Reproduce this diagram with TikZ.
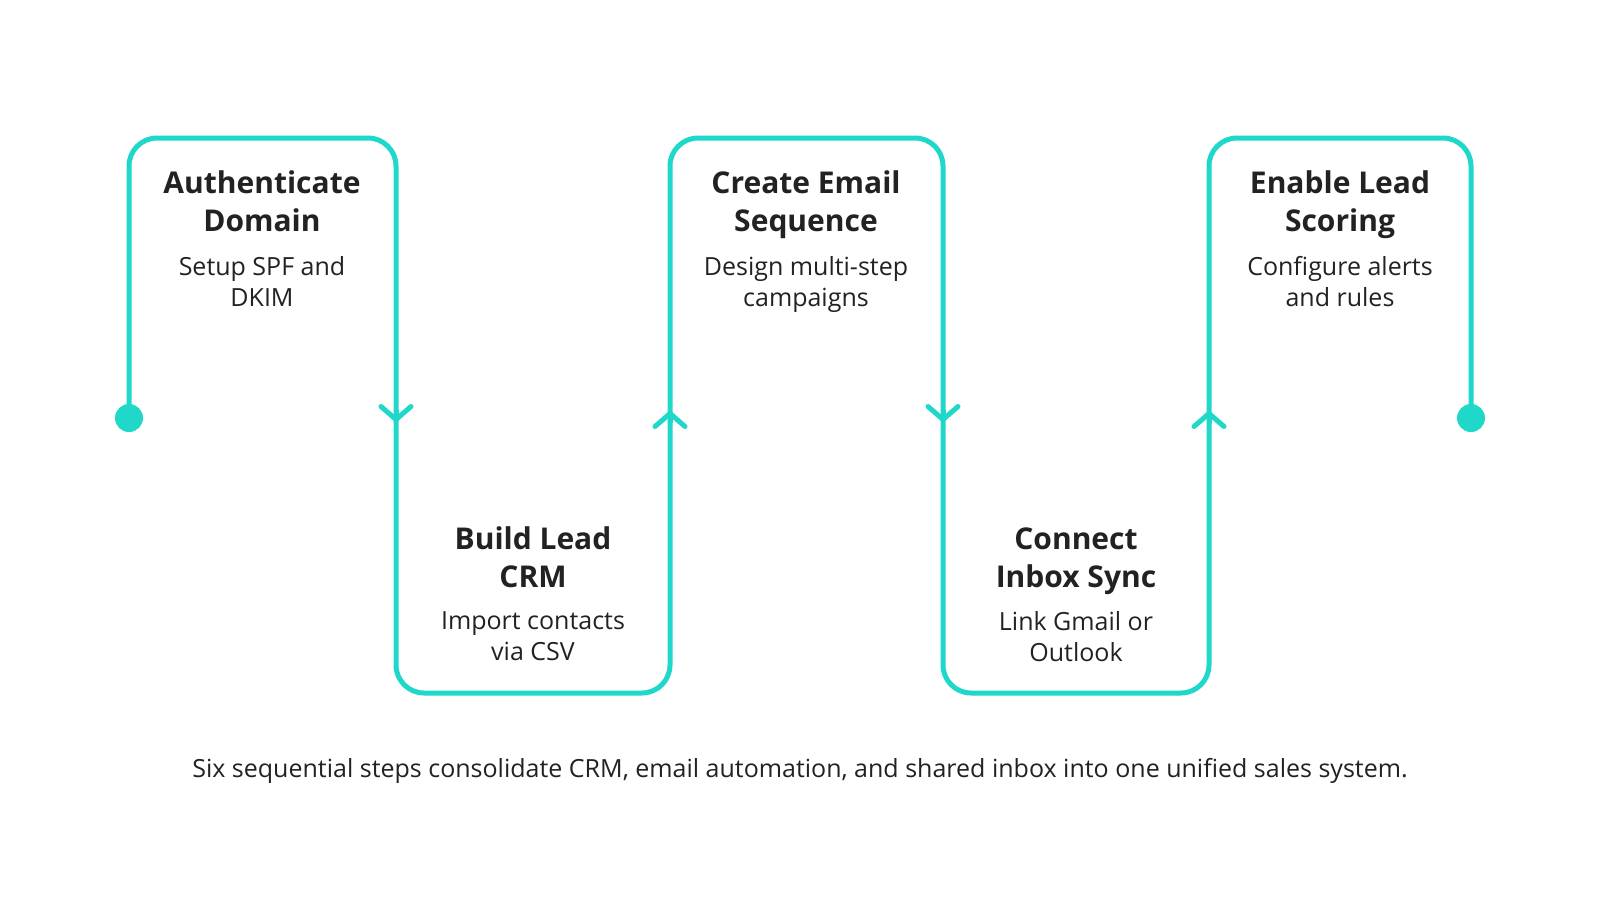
\documentclass[tikz,border=0pt]{standalone}
\usepackage{fontspec}
\setmainfont{Open Sans}
\usetikzlibrary{arrows.meta,positioning}
\definecolor{flowteal}{HTML}{1FD8C9}
\definecolor{inkdark}{HTML}{222222}

\begin{document}
\begin{tikzpicture}[
    x=1pt, y=-1pt,
    flowline/.style={draw=flowteal, line width=5pt, rounded corners=28pt},
    flowtip/.style={draw=flowteal, line width=5pt, -{Straight Barb[length=13pt,width=30pt,round]}},
    flowdot/.style={circle, fill=flowteal, minimum size=28pt, inner sep=0pt},
    steptitle/.style={align=center, anchor=north, inner sep=0pt, text=inkdark, font=\fontsize{30}{38}\selectfont\bfseries},
    stepnote/.style={align=center, inner sep=0pt, text=inkdark, font=\fontsize{25}{31}\selectfont},
    node distance=85pt
  ]
    \useasboundingbox[fill=white] (0,0) rectangle (1600,900);

    % serpentine track
    \node[flowdot] (start) at (129,418) {};
    \node[flowdot] (finish) at (1471,418) {};
    \draw[flowline] (start.center) |- (396,138) |- (670,693) |- (943,138) |- (1209,693) |- (1471,138) -- (finish.center);

    % direction marks
    \coordinate (down1) at (396,422);
    \coordinate (up1) at (670,411);
    \coordinate (down2) at (943,422);
    \coordinate (up2) at (1209,411);
    \draw[flowtip] ([yshift=12pt]down1) -- (down1);
    \draw[flowtip] ([yshift=-12pt]up1) -- (up1);
    \draw[flowtip] ([yshift=12pt]down2) -- (down2);
    \draw[flowtip] ([yshift=-12pt]up2) -- (up2);

    % step labels
    \node[steptitle] (auth) at (262,171) {Authenticate\\ Domain};
    \node[stepnote, below=of auth.north] (authnote) {Setup SPF and\\ DKIM};
    \node[steptitle] (crm) at (533,526) {Build Lead\\ CRM};
    \node[stepnote, below=of crm.north] (crmnote) {Import contacts\\ via CSV};
    \node[steptitle] (seq) at (806,171) {Create Email\\ Sequence};
    \node[stepnote, below=of seq.north] (seqnote) {Design multi-step\\ campaigns};
    \node[steptitle] (inbox) at (1076,528) {Connect\\ Inbox Sync};
    \node[stepnote, below=83pt of inbox.north] (inboxnote) {Link Gmail or\\ Outlook};
    \node[steptitle] (score) at (1340,171) {Enable Lead\\ Scoring};
    \node[stepnote, below=of score.north] (scorenote) {Configure alerts\\ and rules};

    \node[text=inkdark, font=\fontsize{25}{30}\selectfont] (caption) at (800,771) {Six sequential steps consolidate CRM, email automation, and shared inbox into one unified sales system.};
  \end{tikzpicture}
\end{document}
